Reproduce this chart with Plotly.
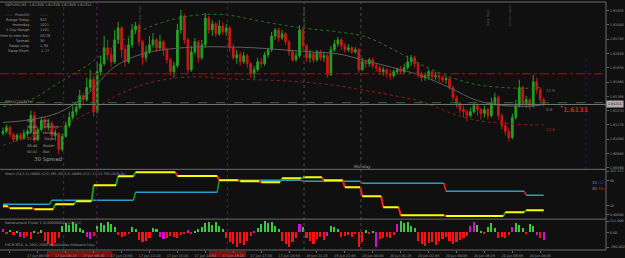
import plotly.graph_objects as go

# ---------------- DATA ----------------
bars = list(range(156))
open0 = 1.61118
closes = [1.61131,1.61157,1.61111,1.61078,1.61104,1.61084,1.61118,1.61131,1.61237,1.61078,
          1.61144,1.61204,1.61171,1.61184,1.61104,1.61118,1.61012,1.61098,1.61171,1.61224,
          1.61263,1.61290,1.61370,1.61343,1.61423,1.61476,1.61263,1.61529,1.61582,1.61688,
          1.61641,1.61595,1.61741,1.61820,1.61675,1.61595,1.61708,1.61807,1.61834,1.61728,
          1.61622,1.61661,1.61708,1.61741,1.61688,1.61728,1.61675,1.61608,1.61529,1.61568,
          1.61807,1.61900,1.61741,1.61542,1.61661,1.61728,1.61622,1.61708,1.61887,1.61807,
          1.61847,1.61781,1.61834,1.61794,1.61820,1.61688,1.61622,1.61641,1.61595,1.61635,
          1.61582,1.61515,1.61542,1.61595,1.61582,1.61641,1.61675,1.61767,1.61807,1.61754,
          1.61781,1.61728,1.61661,1.61608,1.61635,1.61807,1.61701,1.61622,1.61648,1.61608,
          1.61661,1.61622,1.61635,1.61509,1.61675,1.61714,1.61741,1.61701,1.61675,1.61688,
          1.61661,1.61675,1.61542,1.61595,1.61582,1.61608,1.61568,1.61555,1.61529,1.61542,
          1.61515,1.61502,1.61529,1.61542,1.61529,1.61555,1.61595,1.61622,1.61582,1.61515,
          1.61489,1.61502,1.61529,1.61495,1.61502,1.61489,1.61476,1.61482,1.61423,1.61356,
          1.61317,1.61277,1.61263,1.61237,1.61263,1.61303,1.61277,1.61250,1.61277,1.61237,
          1.61317,1.61356,1.61237,1.61171,1.61131,1.61091,1.61224,1.61303,1.61423,1.61317,
          1.61343,1.61303,1.61462,1.61409,1.61343,1.61311]
highs = [1.61157,1.61177,1.61171,1.61124,1.61118,1.61124,1.61144,1.61151,1.61270,1.61263,
         1.61157,1.61230,1.61224,1.61210,1.61197,1.61144,1.61124,1.61118,1.61197,1.61263,
         1.61303,1.61317,1.61409,1.61389,1.61489,1.61542,1.61502,1.61595,1.61635,1.61767,
         1.61741,1.61688,1.61807,1.61860,1.61834,1.61708,1.61754,1.61847,1.61860,1.61847,
         1.61741,1.61701,1.61767,1.61787,1.61754,1.61774,1.61741,1.61688,1.61622,1.61595,
         1.61847,1.61940,1.61913,1.61754,1.61701,1.61754,1.61741,1.61741,1.61920,1.61900,
         1.61873,1.61860,1.61873,1.61860,1.61847,1.61834,1.61714,1.61675,1.61661,1.61661,
         1.61648,1.61595,1.61568,1.61622,1.61622,1.61661,1.61688,1.61794,1.61820,1.61820,
         1.61807,1.61794,1.61741,1.61675,1.61661,1.61840,1.61820,1.61714,1.61675,1.61661,
         1.61675,1.61675,1.61661,1.61648,1.61701,1.61741,1.61761,1.61754,1.61721,1.61714,
         1.61701,1.61694,1.61688,1.61622,1.61608,1.61622,1.61622,1.61582,1.61568,1.61562,
         1.61555,1.61542,1.61542,1.61555,1.61568,1.61582,1.61635,1.61641,1.61635,1.61595,
         1.61529,1.61522,1.61542,1.61535,1.61529,1.61515,1.61502,1.61502,1.61489,1.61436,
         1.61370,1.61330,1.61303,1.61277,1.61290,1.61323,1.61317,1.61290,1.61303,1.61290,
         1.61356,1.61389,1.61370,1.61250,1.61197,1.61157,1.61250,1.61343,1.61476,1.61436,
         1.61370,1.61356,1.61509,1.61489,1.61423,1.61356]
lows = [1.61104,1.61118,1.61091,1.61058,1.61065,1.61071,1.61078,1.61098,1.61124,1.61058,
        1.61065,1.61131,1.61144,1.61138,1.61078,1.61071,1.60978,1.60998,1.61091,1.61157,
        1.61210,1.61237,1.61277,1.61317,1.61330,1.61396,1.61230,1.61250,1.61502,1.61568,
        1.61608,1.61562,1.61582,1.61714,1.61622,1.61562,1.61582,1.61688,1.61781,1.61701,
        1.61575,1.61595,1.61648,1.61688,1.61661,1.61675,1.61635,1.61582,1.61502,1.61489,
        1.61555,1.61781,1.61714,1.61522,1.61529,1.61641,1.61588,1.61608,1.61688,1.61781,
        1.61767,1.61761,1.61767,1.61774,1.61767,1.61661,1.61608,1.61582,1.61568,1.61582,
        1.61555,1.61489,1.61482,1.61529,1.61555,1.61568,1.61622,1.61661,1.61741,1.61728,
        1.61741,1.61708,1.61635,1.61595,1.61595,1.61622,1.61675,1.61595,1.61588,1.61588,
        1.61595,1.61602,1.61595,1.61489,1.61502,1.61661,1.61694,1.61675,1.61655,1.61661,
        1.61648,1.61648,1.61522,1.61535,1.61555,1.61562,1.61549,1.61529,1.61509,1.61502,
        1.61489,1.61476,1.61489,1.61509,1.61515,1.61515,1.61542,1.61568,1.61555,1.61489,
        1.61462,1.61469,1.61476,1.61476,1.61476,1.61462,1.61456,1.61449,1.61409,1.61336,
        1.61290,1.61250,1.61224,1.61197,1.61224,1.61250,1.61237,1.61210,1.61224,1.61210,
        1.61224,1.61303,1.61210,1.61144,1.61104,1.61065,1.61078,1.61210,1.61290,1.61290,
        1.61290,1.61277,1.61290,1.61383,1.61317,1.61297]

band_bars = [0, 8, 16, 24, 32, 40, 48, 56, 64, 72, 80, 88, 96, 104, 112, 120, 128, 136, 144, 152, 155]
upper_band = [1.61297,1.61343,1.61456,1.61568,1.61708,1.61807,1.61873,1.61907,1.61907,1.61873,
              1.61840,1.61814,1.61794,1.61761,1.61675,1.61575,1.61495,1.61442,1.61423,1.61420,1.61430]
mid_line = [1.61191,1.61210,1.61257,1.61376,1.61562,1.61648,1.61681,1.61694,1.61694,1.61688,
            1.61675,1.61661,1.61648,1.61602,1.61555,1.61502,1.61423,1.61336,1.61303,1.61300,1.61311]
lower_band = [1.61038,1.61098,1.61157,1.61250,1.61363,1.61442,1.61482,1.61495,1.61482,1.61476,
              1.61469,1.61456,1.61436,1.61403,1.61370,1.61330,1.61257,1.61204,1.61184,1.61175,1.61175]

bid_price = 1.61311
ask_level = 1.61323
pivot_level = 1.61515

price_ticks = [1.61935, 1.61840, 1.61745, 1.61650, 1.61555, 1.61460, 1.61365,
               1.61270, 1.61175, 1.61080, 1.60985, 1.60890]

purple_marks = [17.4, 26.9, 64.3]
gray_marks = [86.3, 102.6]
blue_mark = 167.1

tick_bars = [2, 10, 18, 26, 34, 42, 50, 58, 66, 74, 82, 90, 98, 106, 114, 122, 130, 138, 146, 154]
tick_text = ["17 Jun 2011", "17 Jun 06:50", "17 Jun 08:10", "17 Jun 09:30", "17 Jun 10:50",
             "17 Jun 12:10", "17 Jun 13:30", "17 Jun 14:50", "17 Jun 16:10", "17 Jun 17:30",
             "17 Jun 18:50", "19 Jun 21:25", "19 Jun 22:45", "20 Jun 00:05", "20 Jun 01:25",
             "20 Jun 02:45", "20 Jun 04:05", "20 Jun 05:25", "20 Jun 06:45", "20 Jun 08:05"]
highlight_ranges = [(12.6, 31.4), (59.1, 69.7)]

fast_starts = [0, 2, 9, 15, 21, 26, 33, 38, 50, 62, 68, 74, 80, 86, 92, 98, 103, 109, 114, 127, 144, 150]
fast_levels = [19.3, 14.6, 12.3, 24.0, 31.0, 68.3, 89.3, 98.7, 90.0, 80.0, 77.7, 75.3, 84.7, 87.0,
               80.0, 63.7, 42.6, 17.0, -1.7, -4.0, 5.3, 10.0]
slow_starts = [0, 14, 38, 62, 86, 103, 127, 150]
slow_levels = [24.0, 33.3, 52.0, 80.0, 77.7, 73.0, 54.3, 45.0]

hist_values = [30,-20,25,-30,15,-50,-60,-40,-70,10,-20,20,-90,-120,-140,-110,-60,60,90,70,
               100,80,40,20,-50,-70,-40,60,90,70,100,80,50,-30,-50,-40,-20,50,30,-80,
               -100,-90,-60,40,30,-50,-70,-60,-40,-50,-60,-30,-20,20,-15,15,30,50,90,100,
               70,100,60,30,-60,-100,-120,-150,-110,-130,-90,-40,10,40,80,110,90,100,60,30,
               -90,-120,-150,-100,-60,80,50,-60,-90,-120,-70,-50,-80,-40,60,50,30,-50,-40,-30,
               -50,-20,-150,-100,20,-15,10,-150,-70,-60,-50,-60,-30,80,110,90,100,60,40,-90,
               -120,-140,-110,-100,-130,-90,-70,-50,-90,-120,-100,-80,-60,-40,60,100,70,10,-10,50,
               90,40,-60,-50,-60,-30,50,90,70,40,-20,80,60,-30,-60,-80]
magenta_bars = [0, 5, 24, 25, 45, 46, 53, 72, 85, 93, 107, 113, 134, 135, 146, 153, 155]

# ---------------- STYLE ----------------
BG = "#101010"
GRID = "#6a6a6a"
TXT = "#9a9a9a"
GREEN = "#23a023"
RED = "#c81818"
FONT = "DejaVu Sans"
W, H = 625, 258
ML, MR, MT, MB = 0, 17, 2, 7
PW, PH = W - ML - MR, H - MT - MB


def xp(px):
    return (px - ML) / PW


def yp(py):
    return (H - MB - py) / PH


XMIN, XMAX = -0.857, 172.857

fig = go.Figure()

opens = [open0] + closes[:-1]
fig.add_trace(go.Candlestick(
    x=bars, open=opens, high=highs, low=lows, close=closes,
    increasing=dict(line=dict(color=GREEN, width=1), fillcolor=GREEN),
    decreasing=dict(line=dict(color=RED, width=1), fillcolor=RED),
    whiskerwidth=0, hoverinfo="skip", xaxis="x", yaxis="y", showlegend=False))

fig.add_trace(go.Scatter(x=band_bars, y=upper_band, mode="lines", line=dict(color="#1f7a1f", width=1, dash="dot", shape="spline"),
                         xaxis="x", yaxis="y", showlegend=False, hoverinfo="skip"))
fig.add_trace(go.Scatter(x=band_bars, y=mid_line, mode="lines", line=dict(color="#5f5f5f", width=1, shape="spline"),
                         xaxis="x", yaxis="y", showlegend=False, hoverinfo="skip"))
fig.add_trace(go.Scatter(x=band_bars, y=lower_band, mode="lines", line=dict(color="#9a1a1a", width=1, dash="dot", shape="spline"),
                         xaxis="x", yaxis="y", showlegend=False, hoverinfo="skip"))


def step_traces(starts, levels, end, color, width, axis):
    hx, hy, ux, uy, dx, dy = [], [], [], [], [], []
    for k, lv in enumerate(levels):
        s = starts[k]
        e = starts[k + 1] - 0.6 if k + 1 < len(starts) else end
        hx += [s, e, None]
        hy += [lv, lv, None]
        if k + 1 < len(starts):
            nxt = levels[k + 1]
            tx, ty = (ux, uy) if nxt > lv else (dx, dy)
            tx += [e, starts[k + 1], None]
            ty += [lv, nxt, None]
    out = []
    out.append(go.Scatter(x=ux, y=uy, mode="lines", line=dict(color="#1e9a1e", width=width),
                          xaxis=axis[0], yaxis=axis[1], showlegend=False, hoverinfo="skip"))
    out.append(go.Scatter(x=dx, y=dy, mode="lines", line=dict(color="#ff1a1a", width=width),
                          xaxis=axis[0], yaxis=axis[1], showlegend=False, hoverinfo="skip"))
    out.append(go.Scatter(x=hx, y=hy, mode="lines", line=dict(color=color, width=width),
                          xaxis=axis[0], yaxis=axis[1], showlegend=False, hoverinfo="skip"))
    return out


for t in step_traces(slow_starts, slow_levels, bars[-1], "#2a9cc8", 1.5, ("x2", "y2")):
    fig.add_trace(t)
for t in step_traces(fast_starts, fast_levels, bars[-1], "#ffff00", 2, ("x2", "y2")):
    fig.add_trace(t)

hcolors = []
for i, v in enumerate(hist_values):
    if i in magenta_bars:
        hcolors.append("#d010d0")
    else:
        hcolors.append("#3cc83c" if v > 0 else "#ff1010")
fig.add_trace(go.Bar(x=bars, y=hist_values, marker=dict(color=hcolors, line=dict(width=0)), width=0.6,
                     xaxis="x3", yaxis="y3", showlegend=False, hoverinfo="skip"))

# ---------------- SHAPES ----------------
shapes = []
for lv, col, dash in [(pivot_level, "#b01010", "dashdot"), (ask_level, "#2a6a2a", "dash"), (bid_price, "#7a7a7a", "solid")]:
    shapes.append(dict(type="line", xref="x", yref="y", x0=XMIN, x1=XMAX, y0=lv, y1=lv,
                       line=dict(color=col, width=1, dash=dash)))
for b in purple_marks:
    shapes.append(dict(type="line", xref="x", yref="paper", x0=b, x1=b, y0=0, y1=1,
                       line=dict(color="#5a1a5a", width=1, dash="dot")))
for b in gray_marks:
    shapes.append(dict(type="line", xref="x", yref="paper", x0=b, x1=b, y0=0, y1=1,
                       line=dict(color="#4a4a4a", width=1, dash="dot")))
shapes.append(dict(type="line", xref="x", yref="paper", x0=blue_mark, x1=blue_mark, y0=yp(170), y1=yp(58),
                   line=dict(color="#1a1a8a", width=1, dash="dot")))
for py in [2, 170, 220, 251]:
    shapes.append(dict(type="line", xref="paper", yref="paper", x0=0, x1=1, y0=yp(py), y1=yp(py),
                       line=dict(color=GRID, width=1)))
shapes.append(dict(type="line", xref="paper", yref="paper", x0=1, x1=1, y0=yp(251), y1=yp(2),
                   line=dict(color=GRID, width=1)))
for a, b in highlight_ranges:
    shapes.append(dict(type="rect", xref="x", yref="paper", x0=a, x1=b, y0=yp(258), y1=yp(252),
                       fillcolor="#7a1010", line=dict(width=0), layer="below"))

# ---------------- TEXT ----------------
ann = []


def txt(x, y, s, size=3.6, color=TXT, anchor="left", **kw):
    ann.append(dict(x=xp(x), y=yp(y), xref="paper", yref="paper", text=s, showarrow=False,
                    xanchor=anchor, yanchor="middle", font=dict(family=FONT, size=size, color=color), **kw))


txt(3, 5, "GBPUSD,M5  1.61308 1.61318 1.61309 1.61311")
info = [("------  Pivot(D)", "------"), ("Range Today:", "952"), ("Yesterday:", "1021"),
        ("5 Day Range:", "1101"), ("Time to next bar:", "03:28"), ("Spread:", "30"),
        ("Swap Long:", "1.30"), ("Swap Short:", "-1.77")]
for k, (a, b) in enumerate(info):
    txt(32, 15 + 5.2 * k, a, anchor="right")
    txt(38, 15 + 5.2 * k, b)
txt(3, 102, "PPMA(1213) ref")
sess = [("GMT:", "Diff."), ("06:45", "New York"), ("08:45", "London"), ("17:40", "Tokyo"),
        ("08:46", "Broker"), ("00:01", "Bar:")]
for k, (a, b) in enumerate(sess):
    txt(25, 121 + 6.3 * k, a)
    txt(41, 121 + 6.3 * k, b)
txt(32, 160, "30 Spread", size=5.5)
txt(353, 167, "Monday", size=4.2)
txt(546, 91, "11.9", size=4, color="#2aa02a")
txt(546, 110, "0.0", size=4, color="#8a8a8a")
txt(546, 130, "13.6", size=4, color="#c01818")
txt(560, 108, "^", size=4, color="#c0c0c0")
txt(563, 110, "<b>1.6131</b>", size=6.5, color="#e01818")
for x, y, s in [(140, 18, "Yesterday High"), (305, 17, "Weekly Open"), (490, 17, "Daily Open"), (512, 16, "London Open")]:
    txt(x, y, s, size=3.2, color="#555555", textangle=-90, anchor="center")
txt(3, 175, "Stoch (14,3,3) LWMA (C/C) M5 (30,3,3) LWMA (C/C) 11:11:755 (0L0L0L)", size=3.4)
txt(592, 183, "1h <span style='color:#2020ff'>Up</span>", size=4)
txt(592, 189, "4h <span style='color:#e01818'>Dn</span>", size=4)
txt(3, 224, "Retracement Finder 1 (0.00000000) 120.1(1)", size=3.4)
txt(3, 245.5, "FXCM MT4, © 2001-2009 MetaQuotes Software Corp.", size=3.4)
ann.append(dict(x=1.0, y=bid_price, xref="paper", yref="y", text="1.61311", showarrow=False, xanchor="left",
                yanchor="middle", bgcolor="#b0b0b0", font=dict(family=FONT, size=3.4, color="#000000")))

axis_font = dict(family=FONT, size=3.4, color=TXT)
common_x = dict(range=[XMIN, XMAX], showgrid=False, zeroline=False, showline=False)
fig.update_layout(
    width=W, height=H, margin=dict(l=ML, r=MR, t=MT, b=MB),
    paper_bgcolor=BG, plot_bgcolor=BG, showlegend=False, bargap=0,
    xaxis=dict(domain=[0, 1], anchor="y", showticklabels=False, ticks="", rangeslider=dict(visible=False), **common_x),
    xaxis2=dict(domain=[0, 1], anchor="y2", matches="x", showticklabels=False, ticks="", **common_x),
    xaxis3=dict(domain=[0, 1], anchor="y3", matches="x", tickvals=tick_bars, ticktext=tick_text, ticks="outside",
                ticklen=2, tickcolor=GRID, tickfont=axis_font, **common_x),
    yaxis=dict(domain=[yp(170), 1], anchor="x", side="right", range=[1.60879, 1.61993], tickvals=price_ticks,
               tickformat=".5f", ticks="outside", ticklen=2, tickcolor=GRID, tickfont=axis_font,
               showgrid=False, zeroline=False),
    yaxis2=dict(domain=[yp(219), yp(171)], anchor="x2", side="right", range=[-8.7, 103.4],
                tickvals=[101.317, 80, 20, 0], ticktext=["101.317", "80", "20", "0.00000"], ticks="outside", ticklen=2,
                tickcolor=GRID, tickfont=axis_font, showgrid=False, zeroline=False),
    yaxis3=dict(domain=[0, yp(221)], anchor="x3", side="right", range=[-177, 123],
                tickvals=[113, 0, -147], ticktext=["111.000", "0.00", "-290.402"], ticks="outside", ticklen=2,
                tickcolor=GRID, tickfont=axis_font, showgrid=False, zeroline=False),
    shapes=shapes, annotations=ann,
)

fig.write_html("out.html")
